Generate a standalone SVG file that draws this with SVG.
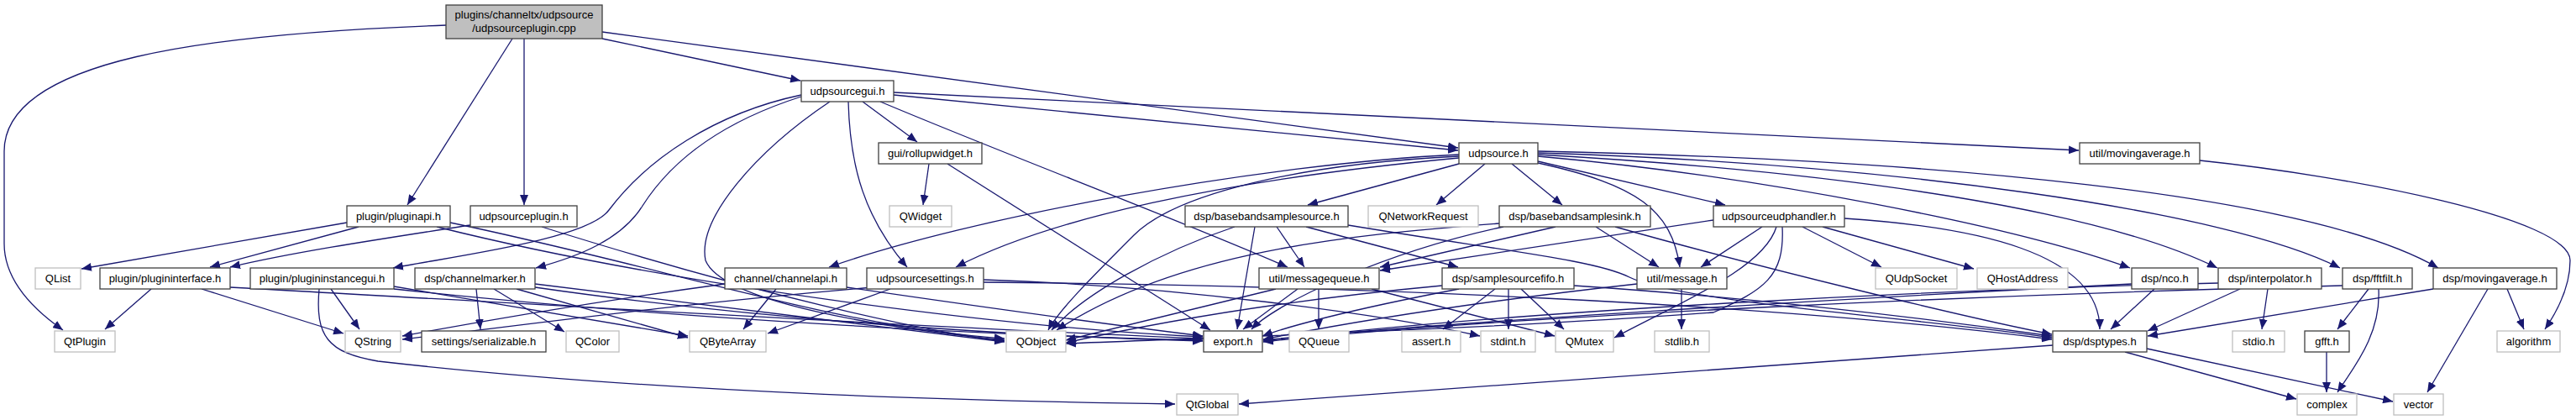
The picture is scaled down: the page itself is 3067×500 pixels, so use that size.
<svg xmlns="http://www.w3.org/2000/svg" width="3067" height="500" viewBox="0 0 3067 500">
<style>
.n rect{fill:#fff;stroke:#404040;stroke-width:1.3}
.g rect{fill:#fff;stroke:#bfbfbf;stroke-width:1.3}
.r rect{fill:#bfbfbf;stroke:#404040;stroke-width:1.3}
text{font-family:"Liberation Sans",Arial,sans-serif;font-size:13px;fill:#000;text-anchor:middle}
#edges path{fill:none;stroke:#191970;stroke-width:1.3;marker-end:url(#ah)}
</style>
<defs>
<marker id="ah" markerUnits="userSpaceOnUse" markerWidth="13" markerHeight="10" refX="12" refY="5" orient="auto">
<path d="M0,0 L12,5 L0,10 z" fill="#191970"/>
</marker>
</defs>
<rect width="3067" height="500" fill="#fff"/>
<g id="edges">
<path d="M531,30 C250,40 5,70 5,180 L5,290 C5,330 35,365 75,393"/>
<path d="M610,46 L485,244"/>
<path d="M624,46 L624,244"/>
<path d="M717,46 L953,96"/>
<path d="M717,38 L1736,176"/>
<path d="M1064,113 L1736,179"/>
<path d="M1064,110 L2475,179"/>
<path d="M1027,121 L1092,169"/>
<path d="M1048,121 C1200,185 1400,260 1533,318"/>
<path d="M1010,121 C1012,200 1030,260 1080,318"/>
<path d="M954,113 C850,135 770,190 725,250 C700,285 540,305 468,319"/>
<path d="M954,115 C860,145 800,190 765,245 C740,285 690,305 638,319"/>
<path d="M988,121 C900,180 830,260 840,310 C860,360 1050,390 1196,405"/>
<path d="M1106,195 L1099,244"/>
<path d="M1128,195 L1441,393"/>
<path d="M1737,184 C1500,195 1150,260 987,318"/>
<path d="M1737,188 C1450,215 1250,260 1138,318"/>
<path d="M1737,186 C1550,195 1400,230 1350,280 C1300,330 1260,370 1248,393"/>
<path d="M1737,195 L1557,244"/>
<path d="M1768,195 L1710,244"/>
<path d="M1800,195 L1860,244"/>
<path d="M1831,192 L2054,244"/>
<path d="M1831,194 C1950,220 1990,250 2000,318"/>
<path d="M1831,186 C2100,210 2400,270 2536,319"/>
<path d="M1831,184 C2200,205 2500,250 2640,319"/>
<path d="M1831,182 C2250,195 2650,250 2786,319"/>
<path d="M1831,180 C2300,190 2750,230 2903,319"/>
<path d="M413,265 L97,320"/>
<path d="M427,270 L250,318"/>
<path d="M536,265 C800,320 1000,390 1196,403"/>
<path d="M520,270 C800,340 1200,390 1432,401"/>
<path d="M180,344 L125,392"/>
<path d="M240,344 L409,397"/>
<path d="M274,342 C600,360 1100,390 1432,403"/>
<path d="M560,268 C450,285 350,300 274,318"/>
<path d="M645,270 C900,350 1100,395 1196,406"/>
<path d="M394,344 L428,392"/>
<path d="M380,344 C375,400 390,420 450,430 C800,470 1200,478 1399,481"/>
<path d="M469,341 L819,400"/>
<path d="M469,344 C800,380 1200,400 1432,405"/>
<path d="M567,344 L572,392"/>
<path d="M588,344 L672,395"/>
<path d="M615,344 L819,402"/>
<path d="M637,338 C900,370 1100,395 1196,407"/>
<path d="M637,342 C900,380 1200,400 1432,406"/>
<path d="M924,344 L885,392"/>
<path d="M863,338 C700,360 560,385 479,400"/>
<path d="M1008,342 C1200,370 1350,390 1432,400"/>
<path d="M1060,344 L914,397"/>
<path d="M1040,342 C800,362 600,390 479,404"/>
<path d="M1171,333 C1400,340 1650,375 1762,400"/>
<path d="M1171,336 C1600,340 2100,360 2443,404"/>
<path d="M1570,344 L1570,392"/>
<path d="M1633,344 L1851,400"/>
<path d="M1519,344 L1269,405"/>
<path d="M1545,344 L1480,392"/>
<path d="M1780,344 L1718,392"/>
<path d="M1796,344 L1796,392"/>
<path d="M1811,344 L1862,392"/>
<path d="M1717,340 C1500,360 1350,390 1269,408"/>
<path d="M1737,344 C1600,370 1530,390 1503,400"/>
<path d="M1874,340 C2100,355 2300,380 2443,400"/>
<path d="M2002,344 L2002,392"/>
<path d="M1949,338 C1750,360 1600,385 1504,404"/>
<path d="M1520,270 L1553,318"/>
<path d="M1555,270 L1736,318"/>
<path d="M1494,270 L1473,392"/>
<path d="M1470,270 C1380,300 1290,350 1252,393"/>
<path d="M1605,268 C1800,300 1900,310 1940,330 C2000,360 2300,380 2443,402"/>
<path d="M1852,270 L1643,318"/>
<path d="M1900,270 L1975,318"/>
<path d="M1923,270 C2100,320 2350,380 2443,398"/>
<path d="M1785,266 C1600,280 1400,300 1258,393"/>
<path d="M1790,270 C1650,300 1520,360 1490,392"/>
<path d="M2040,262 L1643,322"/>
<path d="M2098,270 L2025,318"/>
<path d="M2146,270 L2240,318"/>
<path d="M2170,270 L2350,320"/>
<path d="M2196,260 C2350,270 2500,300 2500,392"/>
<path d="M2115,270 C2100,320 2000,360 1922,402"/>
<path d="M2122,270 C2125,330 2100,345 2040,372 C1800,390 1500,400 1269,409"/>
<path d="M2565,344 L2513,392"/>
<path d="M2538,338 C2200,355 1700,385 1504,405"/>
<path d="M2667,344 L2557,394"/>
<path d="M2700,344 L2693,392"/>
<path d="M2641,337 C2300,345 1800,370 1504,406"/>
<path d="M2820,344 L2783,392"/>
<path d="M2832,344 C2835,400 2800,440 2783,467"/>
<path d="M2789,340 C2400,350 1800,375 1504,407"/>
<path d="M2897,344 L2557,400"/>
<path d="M2985,344 L3005,392"/>
<path d="M2962,344 L2890,467"/>
<path d="M2770,419 L2770,467"/>
<path d="M2530,419 L2734,475"/>
<path d="M2556,415 L2849,478"/>
<path d="M2444,411 L1475,481"/>
<path d="M2619,191 C2800,210 3060,260 3060,310 C3060,340 3045,370 3030,392"/>
</g>
<g id="root" class="r"><rect x="531" y="6" width="186" height="40"/><text x="624" y="22">plugins/channeltx/udpsource</text><text x="624" y="38">/udpsourceplugin.cpp</text></g>
<g id="udpsourcegui" class="n"><rect x="954" y="96" width="110" height="25"/><text x="1009" y="113">udpsourcegui.h</text></g>
<g id="rollupwidget" class="n"><rect x="1046" y="170" width="123" height="25"/><text x="1107.5" y="187">gui/rollupwidget.h</text></g>
<g id="udpsource" class="n"><rect x="1737" y="170" width="94" height="25"/><text x="1784" y="187">udpsource.h</text></g>
<g id="utilmovingaverage" class="n"><rect x="2476" y="170" width="143" height="25"/><text x="2547.5" y="187">util/movingaverage.h</text></g>
<g id="pluginapi" class="n"><rect x="413" y="245" width="123" height="25"/><text x="474.5" y="262">plugin/pluginapi.h</text></g>
<g id="udpsourceplugin" class="n"><rect x="560" y="245" width="127" height="25"/><text x="623.5" y="262">udpsourceplugin.h</text></g>
<g id="QWidget" class="g"><rect x="1059" y="245" width="74" height="25"/><text x="1096" y="262">QWidget</text></g>
<g id="basebandsamplesource" class="n"><rect x="1411" y="245" width="194" height="25"/><text x="1508" y="262">dsp/basebandsamplesource.h</text></g>
<g id="QNetworkRequest" class="g"><rect x="1629" y="245" width="131" height="25"/><text x="1694.5" y="262">QNetworkRequest</text></g>
<g id="basebandsamplesink" class="n"><rect x="1785" y="245" width="180" height="25"/><text x="1875" y="262">dsp/basebandsamplesink.h</text></g>
<g id="udpsourceudphandler" class="n"><rect x="2040" y="245" width="156" height="25"/><text x="2118" y="262">udpsourceudphandler.h</text></g>
<g id="QList" class="g"><rect x="42" y="319" width="54" height="25"/><text x="69" y="336">QList</text></g>
<g id="plugininterface" class="n"><rect x="119" y="319" width="155" height="25"/><text x="196.5" y="336">plugin/plugininterface.h</text></g>
<g id="plugininstancegui" class="n"><rect x="298" y="319" width="171" height="25"/><text x="383.5" y="336">plugin/plugininstancegui.h</text></g>
<g id="channelmarker" class="n"><rect x="494" y="319" width="143" height="25"/><text x="565.5" y="336">dsp/channelmarker.h</text></g>
<g id="channelapi" class="n"><rect x="863" y="319" width="145" height="25"/><text x="935.5" y="336">channel/channelapi.h</text></g>
<g id="udpsourcesettings" class="n"><rect x="1032" y="319" width="139" height="25"/><text x="1101.5" y="336">udpsourcesettings.h</text></g>
<g id="messagequeue" class="n"><rect x="1499" y="319" width="143" height="25"/><text x="1570.5" y="336">util/messagequeue.h</text></g>
<g id="samplesourcefifo" class="n"><rect x="1717" y="319" width="157" height="25"/><text x="1795.5" y="336">dsp/samplesourcefifo.h</text></g>
<g id="message" class="n"><rect x="1949" y="319" width="107" height="25"/><text x="2002.5" y="336">util/message.h</text></g>
<g id="QUdpSocket" class="g"><rect x="2233" y="319" width="97" height="25"/><text x="2281.5" y="336">QUdpSocket</text></g>
<g id="QHostAddress" class="g"><rect x="2354" y="319" width="108" height="25"/><text x="2408" y="336">QHostAddress</text></g>
<g id="nco" class="n"><rect x="2538" y="319" width="79" height="25"/><text x="2577.5" y="336">dsp/nco.h</text></g>
<g id="interpolator" class="n"><rect x="2641" y="319" width="123" height="25"/><text x="2702.5" y="336">dsp/interpolator.h</text></g>
<g id="fftfilt" class="n"><rect x="2789" y="319" width="83" height="25"/><text x="2830.5" y="336">dsp/fftfilt.h</text></g>
<g id="dspmovingaverage" class="n"><rect x="2897" y="319" width="147" height="25"/><text x="2970.5" y="336">dsp/movingaverage.h</text></g>
<g id="QtPlugin" class="g"><rect x="65" y="394" width="72" height="25"/><text x="101" y="411">QtPlugin</text></g>
<g id="QString" class="g"><rect x="411" y="394" width="66" height="25"/><text x="444" y="411">QString</text></g>
<g id="serializable" class="n"><rect x="502" y="394" width="148" height="25"/><text x="576" y="411">settings/serializable.h</text></g>
<g id="QColor" class="g"><rect x="674" y="394" width="63" height="25"/><text x="705.5" y="411">QColor</text></g>
<g id="QByteArray" class="g"><rect x="821" y="394" width="91" height="25"/><text x="866.5" y="411">QByteArray</text></g>
<g id="QObject" class="g"><rect x="1198" y="394" width="71" height="25"/><text x="1233.5" y="411">QObject</text></g>
<g id="export" class="n"><rect x="1433" y="394" width="70" height="25"/><text x="1468" y="411">export.h</text></g>
<g id="QQueue" class="g"><rect x="1535" y="394" width="71" height="25"/><text x="1570.5" y="411">QQueue</text></g>
<g id="assert" class="g"><rect x="1669" y="394" width="70" height="25"/><text x="1704" y="411">assert.h</text></g>
<g id="stdint" class="g"><rect x="1763" y="394" width="65" height="25"/><text x="1795.5" y="411">stdint.h</text></g>
<g id="QMutex" class="g"><rect x="1852" y="394" width="69" height="25"/><text x="1886.5" y="411">QMutex</text></g>
<g id="stdlib" class="g"><rect x="1970" y="394" width="65" height="25"/><text x="2002.5" y="411">stdlib.h</text></g>
<g id="dsptypes" class="n"><rect x="2444" y="394" width="112" height="25"/><text x="2500" y="411">dsp/dsptypes.h</text></g>
<g id="stdio" class="g"><rect x="2658" y="394" width="62" height="25"/><text x="2689" y="411">stdio.h</text></g>
<g id="gfft" class="n"><rect x="2744" y="394" width="53" height="25"/><text x="2770.5" y="411">gfft.h</text></g>
<g id="algorithm" class="g"><rect x="2973" y="394" width="75" height="25"/><text x="3010.5" y="411">algorithm</text></g>
<g id="QtGlobal" class="g"><rect x="1401" y="469" width="73" height="25"/><text x="1437.5" y="486">QtGlobal</text></g>
<g id="complex" class="g"><rect x="2735" y="469" width="71" height="25"/><text x="2770.5" y="486">complex</text></g>
<g id="vector" class="g"><rect x="2850" y="469" width="59" height="25"/><text x="2879.5" y="486">vector</text></g>
</svg>
